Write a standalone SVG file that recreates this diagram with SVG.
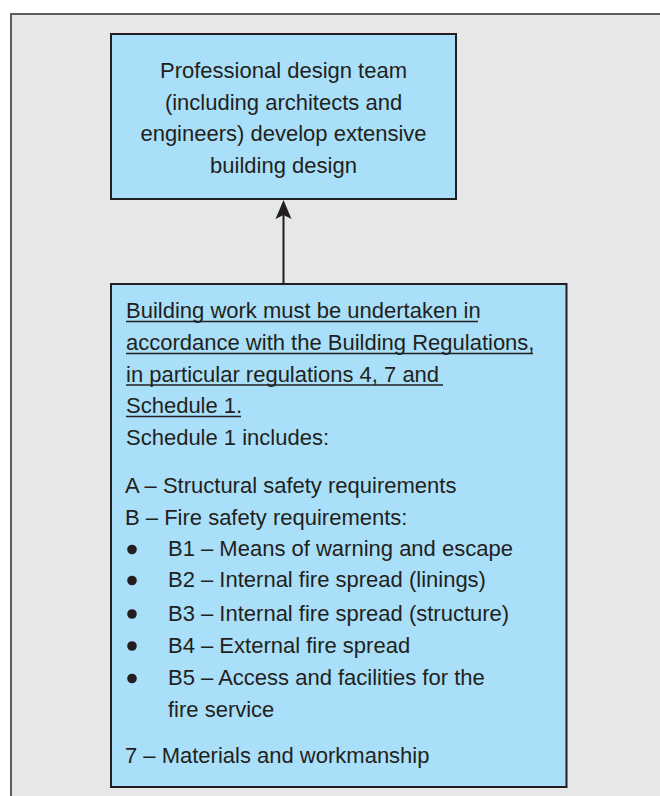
<svg xmlns="http://www.w3.org/2000/svg" width="660" height="796" viewBox="0 0 660 796">
<defs>
<style>
.t{font-family:"Liberation Sans",Arial,sans-serif;font-size:22px;fill:#231f20}
.c{text-anchor:middle}
.box{fill:#a9dff8;stroke:#231f20;stroke-width:2}
.ul{stroke:#231f20;stroke-width:1.5}
.bul{fill:#231f20}
</style>
<marker id="ah" markerWidth="16" markerHeight="20" refX="8" refY="0" orient="auto-start-reverse" markerUnits="userSpaceOnUse" viewBox="0 0 16 20">
<path d="M8,0 L16,19 L8,15 L0,19 Z" fill="#231f20"/>
</marker>
</defs>
<rect width="660" height="796" fill="#ffffff"/>
<rect x="11" y="14" width="700" height="820" fill="#e6e7e8" stroke="#3a3a3a" stroke-width="1.6"/>
<g id="connectors">
<line x1="283.5" y1="284" x2="283.5" y2="214" stroke="#231f20" stroke-width="2"/>
<path d="M283.5,200 L291.5,219 L283.5,215 L275.5,219 Z" fill="#231f20"/>
</g>
<g id="design-team">
<rect class="box" x="111" y="34" width="345" height="165"/>
<text class="t c" x="283.5" y="78">Professional design team</text>
<text class="t c" x="283.5" y="109.5">(including architects and</text>
<text class="t c" x="283.5" y="141">engineers) develop extensive</text>
<text class="t c" x="283.5" y="172.5">building design</text>
</g>
<g id="regulations">
<rect class="box" x="111" y="284" width="455.5" height="503"/>
<text class="t" x="126" y="318">Building work must be undertaken in</text>
<text class="t" x="126" y="350">accordance with the Building Regulations,</text>
<text class="t" x="126" y="381.5">in particular regulations 4, 7 and </text>
<text class="t" x="126" y="413">Schedule 1.</text>
<line class="ul" x1="126" y1="321.5" x2="478" y2="321.5"/>
<line class="ul" x1="126" y1="353.5" x2="533" y2="353.5"/>
<line class="ul" x1="126" y1="385" x2="443" y2="385"/>
<line class="ul" x1="126" y1="416.5" x2="241" y2="416.5"/>
<text class="t" x="126" y="445">Schedule 1 includes:</text>
<text class="t" x="125" y="492.5">A – Structural safety requirements</text>
<text class="t" x="125" y="525">B – Fire safety requirements:</text>
<circle class="bul" cx="132" cy="549.5" r="4.8"/>
<text class="t" x="168" y="556">B1 – Means of warning and escape</text>
<circle class="bul" cx="132" cy="580.5" r="4.8"/>
<text class="t" x="168" y="587">B2 – Internal fire spread (linings)</text>
<circle class="bul" cx="132" cy="614" r="4.8"/>
<text class="t" x="168" y="620.5">B3 – Internal fire spread (structure)</text>
<circle class="bul" cx="132" cy="646" r="4.8"/>
<text class="t" x="168" y="652.5">B4 – External fire spread</text>
<circle class="bul" cx="132" cy="678.5" r="4.8"/>
<text class="t" x="168" y="685">B5 – Access and facilities for the</text>
<text class="t" x="168" y="716.5">fire service</text>
<text class="t" x="125" y="763">7 – Materials and workmanship</text>
</g>
</svg>
